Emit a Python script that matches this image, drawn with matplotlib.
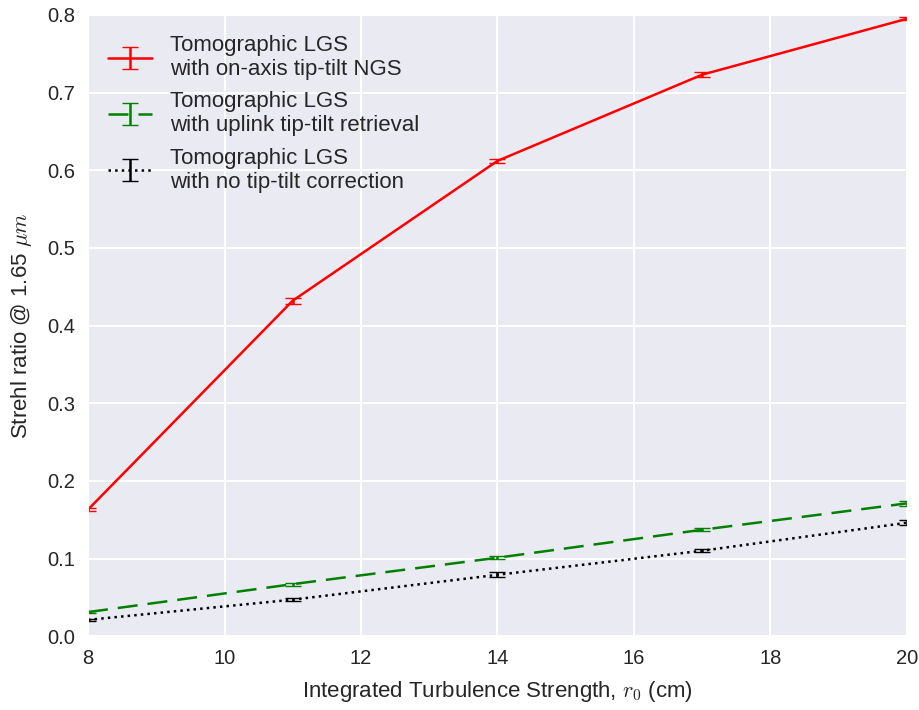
import numpy as np
import matplotlib
matplotlib.use('Agg')
import matplotlib.pyplot as plt
import seaborn as sns

sns.set_style('darkgrid')
plt.rcParams['font.family'] = ['Liberation Sans', 'DejaVu Sans']
plt.rcParams['mathtext.fontset'] = 'cm'

r0 = [8, 11, 14, 17, 20]
ngs = [0.163, 0.432, 0.612, 0.723, 0.795]
ngs_err = [0.002, 0.004, 0.003, 0.003, 0.002]
uplink = [0.031, 0.067, 0.101, 0.137, 0.171]
uplink_err = [0.001, 0.002, 0.002, 0.002, 0.003]
notilt = [0.021, 0.047, 0.079, 0.110, 0.146]
notilt_err = [0.001, 0.002, 0.003, 0.002, 0.003]

fig = plt.figure(figsize=(9.2, 7.1), dpi=100)
ax = fig.add_axes([0.0957, 0.104, 0.89, 0.875])
ax.errorbar(r0, ngs, yerr=ngs_err, color='red', ls='-', lw=1.8, capsize=6,
            label='Tomographic LGS\nwith on-axis tip-tilt NGS')
ax.errorbar(r0, uplink, yerr=uplink_err, color='green', ls='--', lw=1.8, capsize=6,
            dashes=(8, 4), label='Tomographic LGS\nwith uplink tip-tilt retrieval')
ax.errorbar(r0, notilt, yerr=notilt_err, color='black', ls=':', lw=1.8, capsize=6,
            label='Tomographic LGS\nwith no tip-tilt correction')
ax.set_xlim(8, 20)
ax.set_ylim(0, 0.8)
ax.set_xticks(np.arange(8, 21, 2))
ax.set_yticks(np.arange(0, 0.81, 0.1))
ax.tick_params(labelsize=14.5, length=3, color='#555555', direction='out', pad=6)
ax.set_xlabel(r'Integrated Turbulence Strength, $r_0$ (cm)', fontsize=16, labelpad=8)
ax.set_ylabel(r'Strehl ratio @ 1.65 $\mu m$', fontsize=16, labelpad=10)
ax.grid(color='white', lw=1.5)
ax.legend(loc='upper left', fontsize=16, frameon=False, handlelength=2.0,
          handletextpad=0.8, labelspacing=0.5, borderaxespad=0.5)
fig.savefig('out.png', dpi=100)
